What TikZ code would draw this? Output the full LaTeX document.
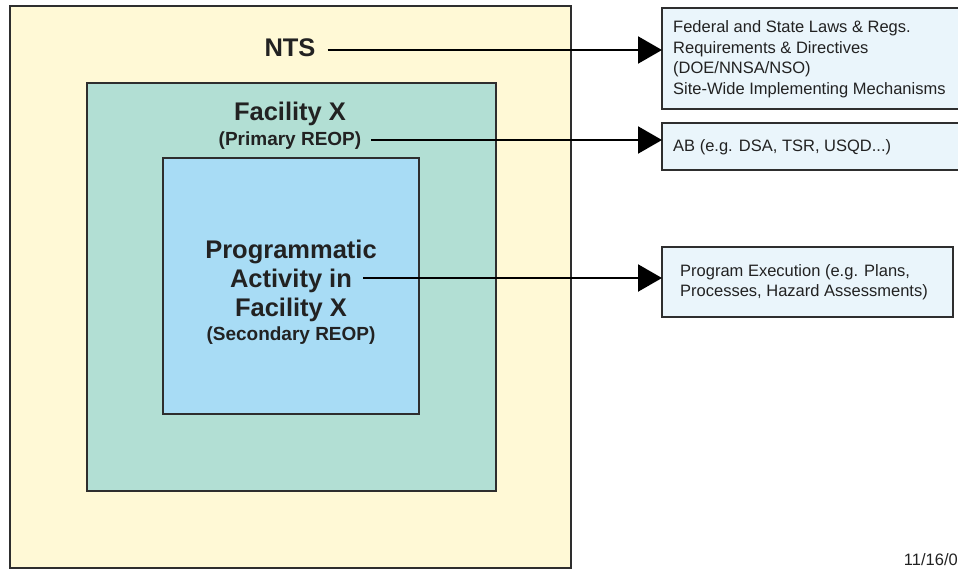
\documentclass[tikz,border=0pt]{standalone}
\usepackage{fontspec}
\setmainfont{Liberation Sans}
\usetikzlibrary{arrows.meta}
\definecolor{cyellow}{HTML}{FFF9D6}
\definecolor{cteal}{HTML}{B2DFD4}
\definecolor{cblue}{HTML}{A8DCF5}
\definecolor{cbox}{HTML}{EAF5FB}
\definecolor{cline}{HTML}{2E2E2E}
\definecolor{ctext}{HTML}{222222}
\begin{document}
\begin{tikzpicture}[x=1pt,y=-1pt,
  region/.style={draw=cline,line width=2pt},
  infobox/.style={draw=cline,line width=2pt,fill=cbox},
  bigtxt/.style={font=\fontsize{25.5}{28}\selectfont\bfseries,text=ctext,inner sep=0pt,anchor=base},
  subtxt/.style={font=\fontsize{19}{22}\selectfont\bfseries,text=ctext,inner sep=0pt,anchor=base},
  infotxt/.style={font=\fontsize{16.5}{20.5}\selectfont,text=ctext,align=left,anchor=west,inner sep=0pt},
  link/.style={draw=black,line width=2.2pt,-{Triangle[length=24pt,width=27pt]}}]
\useasboundingbox (0,0) rectangle (958,568);
% regions
\filldraw[region,fill=cyellow] (10,6) rectangle (571,568);
\filldraw[region,fill=cteal] (87,83) rectangle (496,491);
\filldraw[region,fill=cblue] (163,158) rectangle (419,414);
% info boxes
\filldraw[infobox] (662,8) rectangle (962,109);
\filldraw[infobox] (662,123) rectangle (962,170);
\filldraw[infobox] (662,247) rectangle (953,317);
% labels
\node[bigtxt] (nts) at (290,56) {NTS};
\node[bigtxt] (fac) at (290,120) {Facility X};
\node[subtxt] (prim) at (290,145) {(Primary REOP)};
\node[bigtxt] (p1) at (291,258) {Programmatic};
\node[bigtxt] (p2) at (291,287) {Activity in};
\node[bigtxt] (p3) at (291,316) {Facility X};
\node[subtxt] (p4) at (291,340) {(Secondary REOP)};
% info texts
\node[infotxt] (t1) at (673,59) {Federal and State Laws \& Regs.\\Requirements \& Directives\\(DOE/NNSA/NSO)\\Site-Wide Implementing Mechanisms};
\node[infotxt] (t2) at (673,147) {AB (e.g. DSA, TSR, USQD...)};
\node[infotxt] (t3) at (680,282) {Program Execution (e.g. Plans,\\Processes, Hazard Assessments)};
\node[font=\fontsize{16.5}{18}\selectfont,text=ctext,anchor=east,inner sep=0pt] (date) at (958,560) {11/16/0};
% anchors on the info boxes
\coordinate (b1) at (662,50);
\coordinate (b2) at (662,140);
\coordinate (b3) at (662,278);
% connectors
\draw[link] ([xshift=12pt]nts.east |- b1) -- (b1);
\draw[link] ([xshift=10pt]prim.east |- b2) -- (b2);
\draw[link] ([xshift=11pt]p2.east |- b3) -- (b3);
\end{tikzpicture}
\end{document}
